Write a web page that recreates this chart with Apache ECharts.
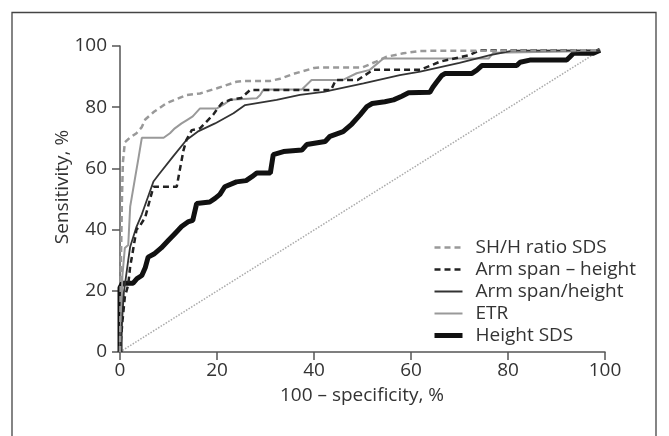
<!DOCTYPE html>
<html><head><meta charset="utf-8">
<script src="https://cdn.jsdelivr.net/npm/echarts@6/dist/echarts.min.js"></script>
<style>html,body{margin:0;padding:0;background:#fff}#c{width:669px;height:436px}</style>
</head><body><div id="c"></div>
<script>
var xTicks = [0, 20, 40, 60, 80, 100];
var yTicks = [0, 20, 40, 60, 80, 100];
var seriesNames = ["SH/H ratio SDS", "Arm span \u2013 height", "Arm span/height", "ETR", "Height SDS"];
var shhRatio = [[0,0],[0.2,30],[0.4,50],[0.6,62],[1,68.5],[2,70],[3.4,71.5],[4.5,73.5],[5.2,76],[7,78.5],[9.6,81.3],[13.8,84],[16.5,84.5],[20,86.2],[24,88.3],[25.5,88.6],[31,88.6],[33,89.3],[36,91],[40,92.8],[41.5,93],[50,93],[52.8,94.9],[55,96.5],[58.4,97.6],[61.9,98.4],[99,98.6]];
var armSpanMinus = [[0,0],[0.5,10],[1,18],[1.7,22],[2.1,28],[2.5,31.5],[3.4,40],[4,41],[5.2,44],[6.2,50],[6.9,54],[11.7,54],[12.2,58.4],[13.1,66],[13.7,69.3],[14.8,72.5],[16.5,73.1],[19.2,77.5],[19.9,79.1],[21,81.3],[22.7,82.4],[25,83],[26.8,85.6],[43.5,85.6],[44.5,88.9],[49,88.9],[52.2,92.2],[61.9,92.2],[66,94.9],[72,97],[74.2,98.6],[99,98.6]];
var armSpanRatio = [[0,0],[0.5,12],[0.8,19.5],[1.7,30],[2.1,34.4],[3.4,40.9],[4.5,45],[6.9,55.7],[8,58],[11,64],[13.7,69.3],[16,72],[19.6,74.7],[23.4,78],[25.8,80.7],[32.3,82.4],[37.1,84],[42,85],[50.2,87.8],[57.7,90.5],[61.9,91.6],[70,94.5],[76.3,97],[81,98.5],[99,98.6]];
var etr = [[0,0],[0.5,25],[1,34],[1.7,35],[2.1,47.5],[3.1,56.8],[3.8,63.3],[4.5,70],[9,70],[10.3,71.5],[11.3,73.1],[12.7,74.7],[13.8,75.8],[15,77],[16.5,79.6],[20,79.6],[21.5,81],[22.7,82.4],[28.2,82.9],[28.9,84],[29.6,85.8],[37.5,85.8],[39.5,88.9],[46,88.9],[48.8,91.1],[51.5,92.2],[54.3,95.9],[76,95.9],[77,97.8],[92,98.2],[99,98.6]];
var heightSds = [[0,0],[0,21],[0.5,22.5],[2.7,22.5],[3.5,24],[4.5,25],[5.2,27.5],[5.8,31],[7,32],[8.5,34],[10,36.5],[11.5,39],[12.7,41],[14,42.5],[15,43],[15.8,48.5],[18.5,49],[19.6,50.2],[20.6,51.5],[21.6,54],[24,55.6],[26,56],[27.2,57.3],[28.2,58.5],[31,58.5],[31.6,64.5],[33.7,65.5],[37.5,66],[38.5,67.8],[42.3,68.8],[43.3,70.5],[46,72],[47.8,74.5],[49.5,77.5],[50.9,80.2],[52,81.2],[54.6,81.8],[56.4,82.4],[58.1,83.6],[59.5,84.7],[63.9,84.9],[64.5,86.5],[65.3,88.2],[66.3,90.3],[67,91],[72.5,91],[73.5,92],[74.6,93.6],[81.8,93.6],[82.5,94.7],[84.5,95.4],[92.1,95.4],[92.8,96.5],[93.5,97.6],[97.6,97.6],[99,98.6]];
var reference = [[0,0],[99,98.6]];
var xTitle = "100 \u2013 specificity, %";
var yTitle = "Sensitivity, %";

var FONT = "Open Sans";
var FS = 19;
var chart = echarts.init(document.getElementById('c'), null, {renderer:'canvas'});
var axisCommon = {
  type:'value', min:0, max:100, interval:20,
  axisLine:{show:true, lineStyle:{color:'#555', width:1.5}},
  axisTick:{show:true, length:8, lineStyle:{color:'#555', width:1.5}},
  splitLine:{show:false}
};
var legendWidths = [2.5, 2.5, 2, 2, 5];
chart.setOption({
  animation:false,
  grid:{left:120, right:64, top:46, bottom:84},
  xAxis: Object.assign({}, axisCommon, {axisLabel:{color:'#333', fontSize:FS, fontFamily:FONT, margin:9}}),
  yAxis: Object.assign({}, axisCommon, {axisLabel:{color:'#333', fontSize:FS, fontFamily:FONT, margin:13}}),
  legend:{
    orient:'vertical', left:432, top:238, padding:0, itemWidth:28, itemHeight:14, itemGap:3,
    data:seriesNames.map(function(n, i){ return {name:n, lineStyle:{width:legendWidths[i]}}; }),
    itemStyle:{opacity:0},
    textStyle:{color:'#333', fontSize:FS, fontFamily:FONT, padding:[0,0,0,8]}
  },
  graphic:[
    {type:'rect', shape:{x:12, y:12.5, width:644, height:500}, style:{fill:'none', stroke:'#444', lineWidth:1.3}, z:-1},
    {type:'text', x:362, y:396, style:{text:xTitle, fontSize:FS, fontFamily:FONT, fill:'#333', textAlign:'center', textVerticalAlign:'middle'}},
    {type:'text', rotation:Math.PI/2, x:63, y:187, style:{text:yTitle, fontSize:FS, fontFamily:FONT, fill:'#333', textAlign:'center', textVerticalAlign:'middle'}}
  ],
  series:[
    {name:'ref', type:'line', data:reference, symbol:'none', silent:true, lineStyle:{color:'#aaa', width:1.5, type:[1.5,1.5]}, z:1},
    {name:seriesNames[4], type:'line', data:heightSds, symbol:'none', lineStyle:{color:'#111', width:5}, itemStyle:{color:'#111'}, z:2},
    {name:seriesNames[3], type:'line', data:etr, symbol:'none', lineStyle:{color:'#999', width:2}, itemStyle:{color:'#999'}, z:3},
    {name:seriesNames[2], type:'line', data:armSpanRatio, symbol:'none', lineStyle:{color:'#333', width:1.8}, itemStyle:{color:'#333'}, z:4},
    {name:seriesNames[1], type:'line', data:armSpanMinus, symbol:'none', lineStyle:{color:'#222', width:2.5, type:[6,4]}, itemStyle:{color:'#222'}, z:5},
    {name:seriesNames[0], type:'line', data:shhRatio, symbol:'none', lineStyle:{color:'#999', width:2.5, type:[6,4]}, itemStyle:{color:'#999'}, z:6}
  ]
});
</script></body></html>
